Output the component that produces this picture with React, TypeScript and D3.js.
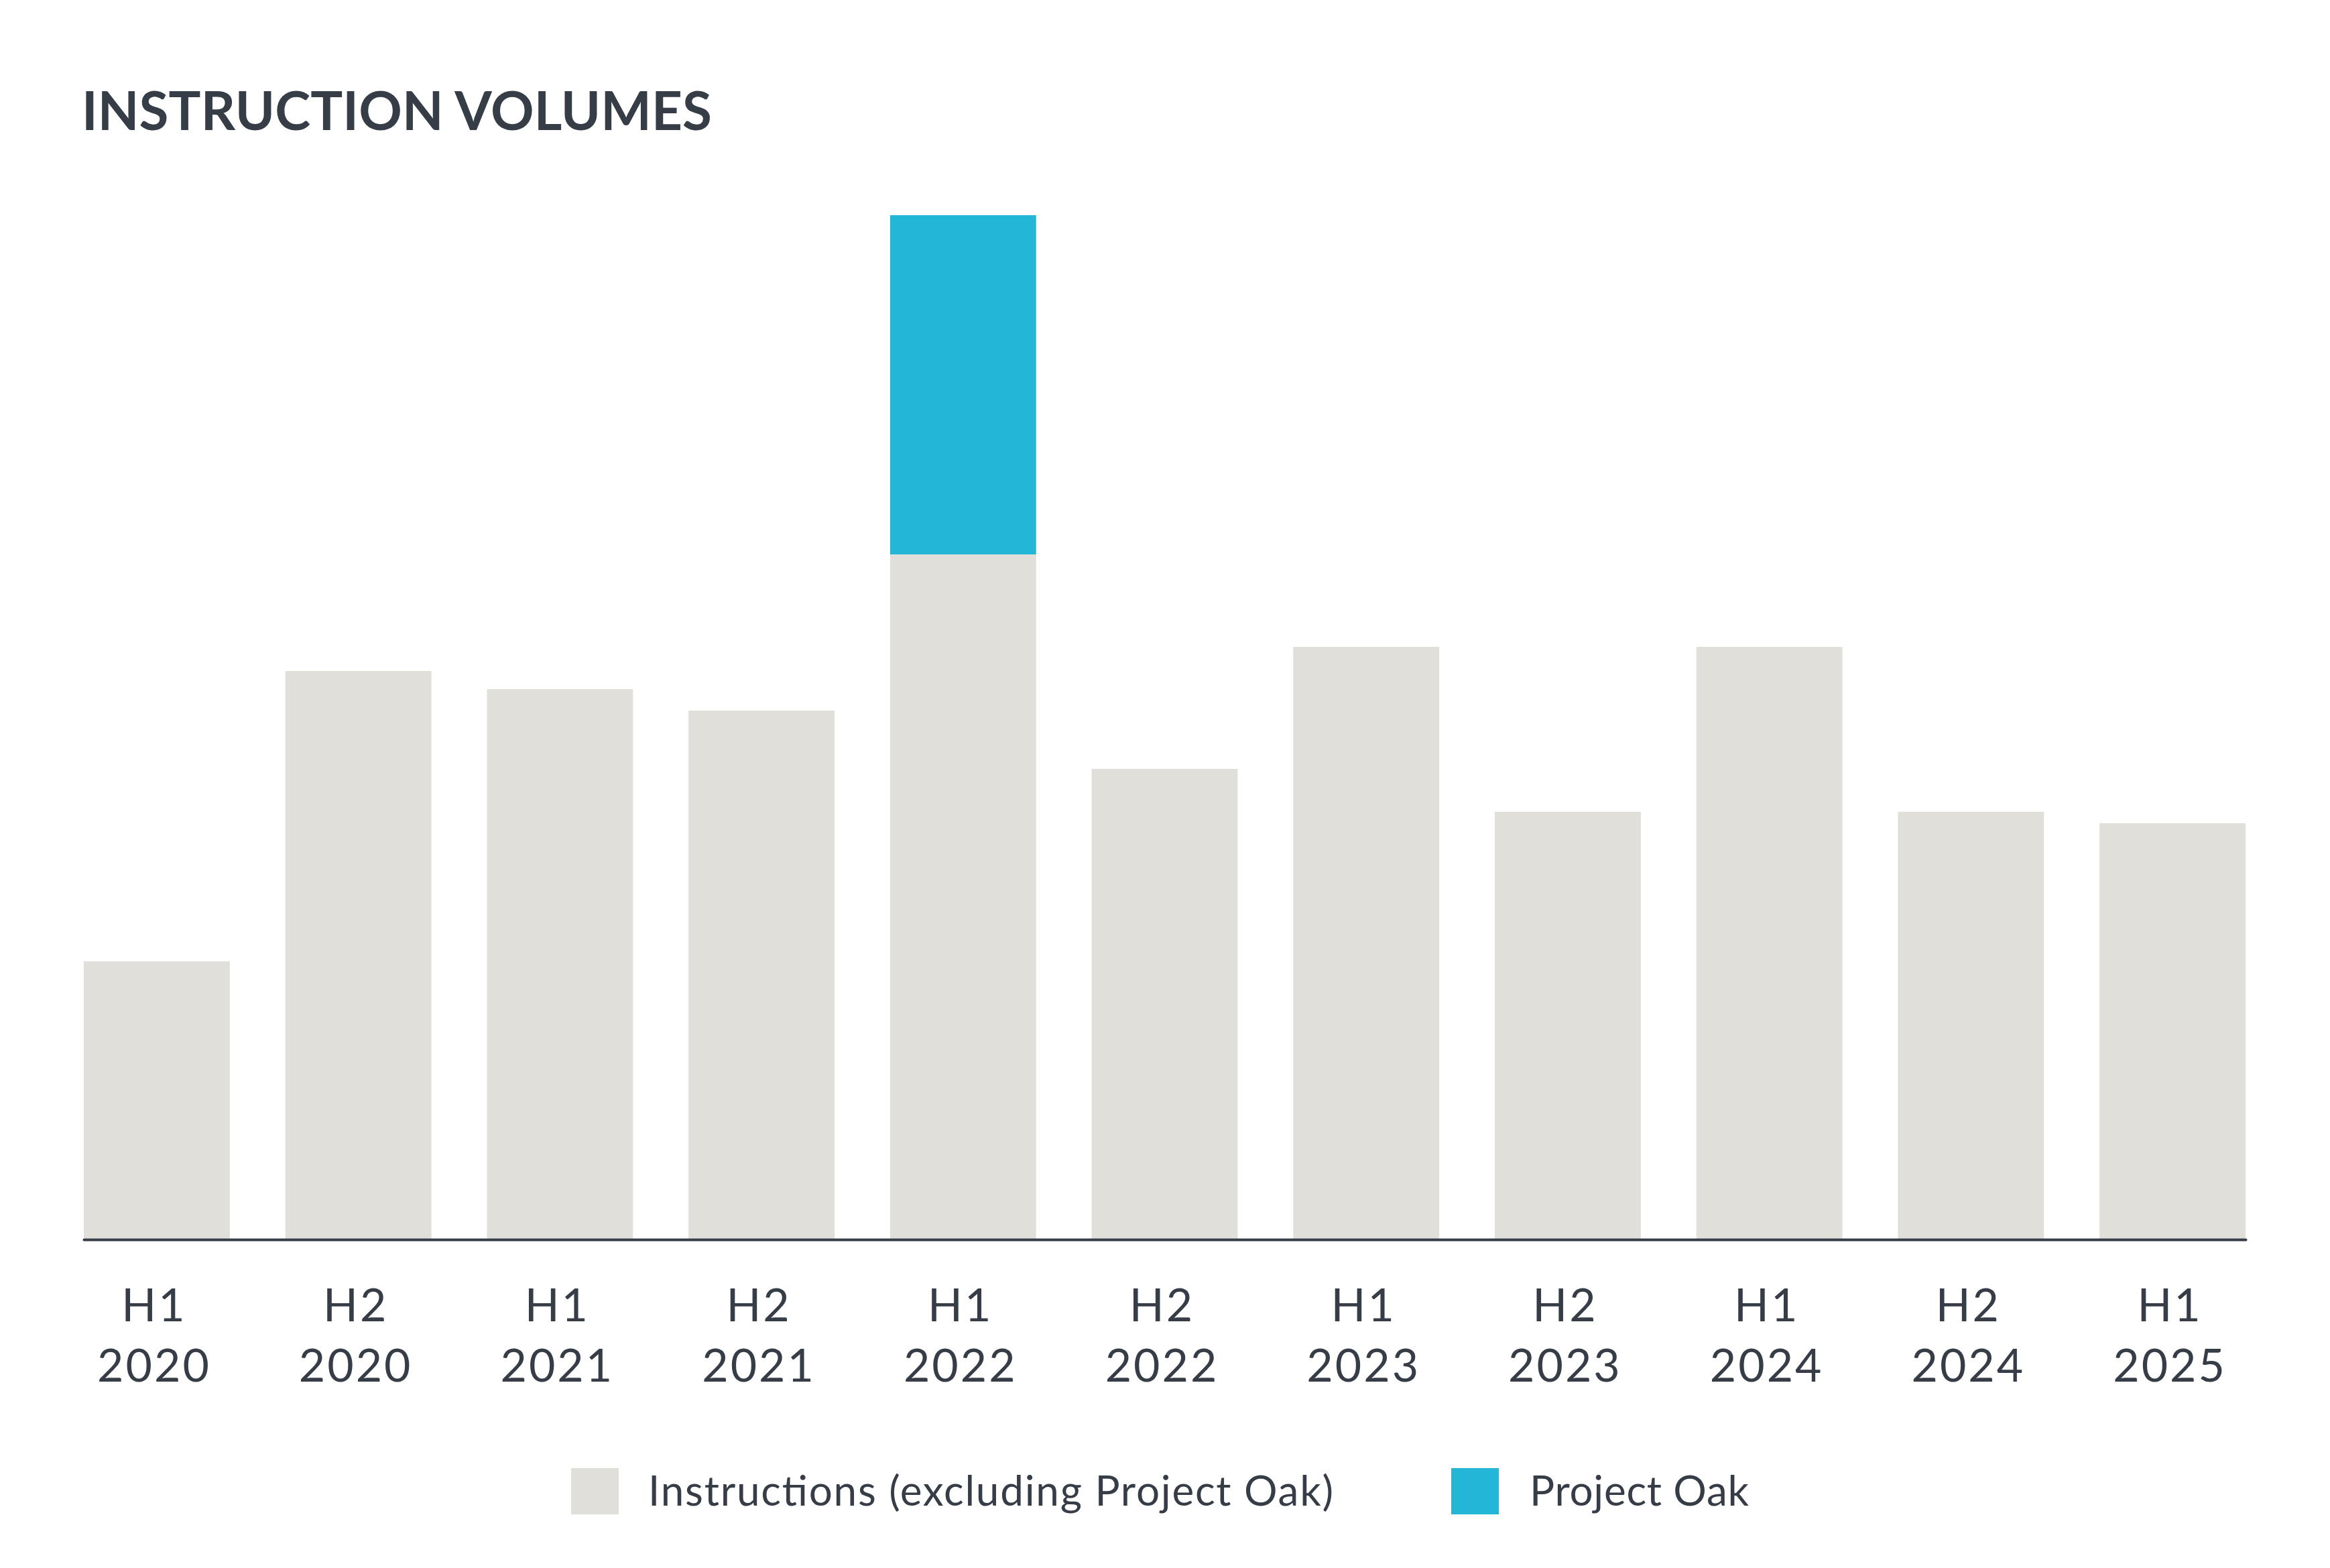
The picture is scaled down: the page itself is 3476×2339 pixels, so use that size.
import * as d3 from 'd3';
import React, { ReactElement, useEffect, useRef } from 'react';

const WIDTH = 3476;
const HEIGHT = 2339;

const periods = [
  'H1 2020', 'H2 2020', 'H1 2021', 'H2 2021', 'H1 2022', 'H2 2022',
  'H1 2023', 'H2 2023', 'H1 2024', 'H2 2024', 'H1 2025',
];
// instructions excluding Project Oak (relative volume)
const instructions = [415, 848, 821, 789, 1022, 702, 884, 638, 884, 638, 621];
const projectOak = [0, 0, 0, 0, 506, 0, 0, 0, 0, 0, 0];

const seriesKeys = ['instructions', 'oak'];
const seriesLabels = ['Instructions (excluding Project Oak)', 'Project Oak'];
const seriesColors = ['#e0dfda', '#24b6d6'];

const TEXT = '#363d47';
const FONT = 'Lato, "Noto Sans", sans-serif';

const App = (): ReactElement => {
  const svgRef = useRef(null);

  useEffect(() => {
    document.body.style.margin = '0';
    const svg = d3.select(svgRef.current);
    svg.selectAll('*').remove();

    const left = 125;
    const right = 3350;
    const base = 1849;
    const top = 321;

    const table = periods.map((p, i) => ({
      period: p,
      instructions: instructions[i],
      oak: projectOak[i],
    }));
    const stacked = d3.stack().keys(seriesKeys)(table);

    const x = d3
      .scaleBand()
      .domain(periods)
      .range([left, right])
      .paddingInner(0.2755)
      .paddingOuter(0);

    const maxTotal = d3.max(table, (d) => d.instructions + d.oak);
    const y = d3.scaleLinear().domain([0, maxTotal]).range([base, top]);

    // title
    svg
      .append('text')
      .attr('x', 122)
      .attr('y', 194)
      .attr('font-family', FONT)
      .attr('font-weight', 700)
      .attr('font-size', 80)
      .attr('fill', TEXT)
      .attr('textLength', 940)
      .attr('lengthAdjust', 'spacing')
      .text('INSTRUCTION VOLUMES');

    // bars
    svg
      .append('g')
      .selectAll('g')
      .data(stacked)
      .enter()
      .append('g')
      .attr('fill', (d, i) => seriesColors[i])
      .selectAll('rect')
      .data((d) => d.filter((s) => s[1] > s[0]))
      .enter()
      .append('rect')
      .attr('x', (d) => x(d.data.period))
      .attr('width', x.bandwidth())
      .attr('y', (d) => y(d[1]))
      .attr('height', (d) => y(d[0]) - y(d[1]));

    // x axis
    const axis = svg
      .append('g')
      .attr('transform', `translate(0, ${base})`)
      .call(d3.axisBottom(x).tickSize(0).tickSizeOuter(0).tickFormat(() => ''));
    axis
      .select('.domain')
      .attr('stroke', TEXT)
      .attr('stroke-width', 4)
      .attr('stroke-linecap', 'round');

    const labels = svg
      .append('g')
      .attr('font-family', FONT)
      .attr('font-size', 68)
      .attr('fill', TEXT)
      .attr('text-anchor', 'middle')
      .attr('letter-spacing', 3)
      .selectAll('text')
      .data(periods)
      .enter()
      .append('text')
      .attr('transform', (d) => `translate(${x(d) + x.bandwidth() / 2 - 4}, 0)`);
    labels
      .append('tspan')
      .attr('x', 0)
      .attr('y', 1971)
      .text((d) => d.split(' ')[0]);
    labels
      .append('tspan')
      .attr('x', 0)
      .attr('y', 2061)
      .text((d) => d.split(' ')[1]);

    // legend
    const legendItems = [
      { x: 852, textX: 967, width: 1022 },
      { x: 2165, textX: 2282, width: 327 },
    ];
    const legend = svg
      .append('g')
      .selectAll('g')
      .data(seriesKeys)
      .enter()
      .append('g');
    legend
      .append('rect')
      .attr('x', (d, i) => legendItems[i].x)
      .attr('y', 2190)
      .attr('width', 71)
      .attr('height', 69)
      .attr('fill', (d, i) => seriesColors[i]);
    legend
      .append('text')
      .attr('x', (d, i) => legendItems[i].textX)
      .attr('y', 2246)
      .attr('font-family', FONT)
      .attr('font-size', 62)
      .attr('fill', TEXT)
      .attr('textLength', (d, i) => legendItems[i].width)
      .attr('lengthAdjust', 'spacing')
      .text((d, i) => seriesLabels[i]);

    return () => {
      svg.selectAll('*').remove();
    };
  }, []);

  return (
    <svg
      ref={svgRef}
      width={WIDTH}
      height={HEIGHT}
      style={{ display: 'block', background: '#ffffff' }}
    />
  );
};

export default App;
